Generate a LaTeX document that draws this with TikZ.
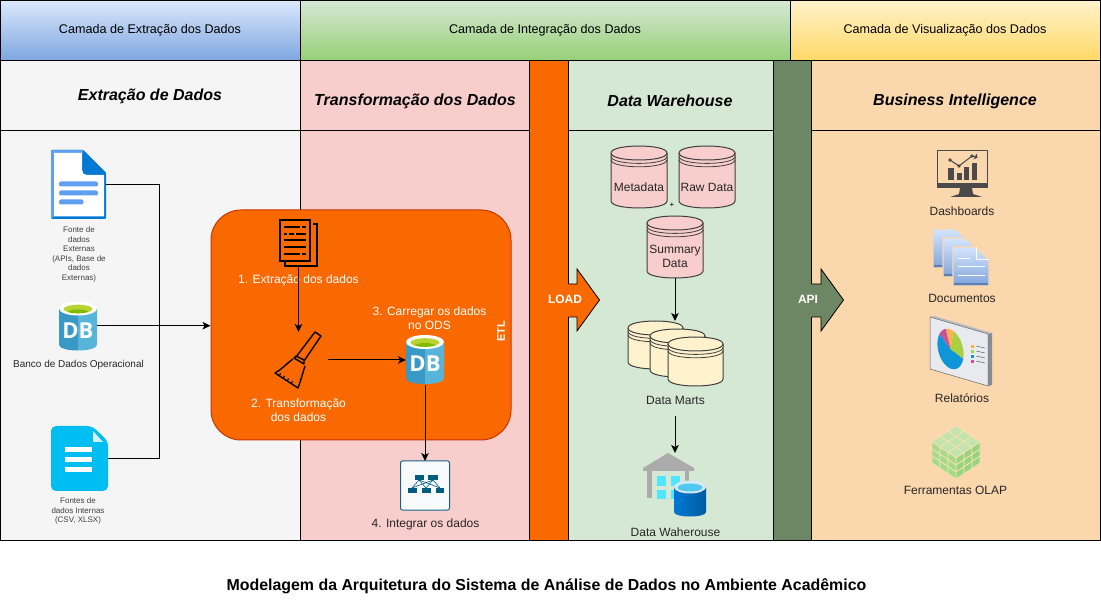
\documentclass[tikz,border=0pt]{standalone}
\usepackage{fontspec}
\setmainfont{Liberation Sans}
\newfontfamily\dbfont{Open Sans}
\usetikzlibrary{arrows.meta}
\definecolor{panelgray}{HTML}{F5F5F5}
\definecolor{panelpink}{HTML}{F8CECC}
\definecolor{panelgreen}{HTML}{D5E8D4}
\definecolor{panelpeach}{HTML}{FAD7AC}
\definecolor{etlorange}{HTML}{FA6800}
\definecolor{etledge}{HTML}{C73500}
\definecolor{apigreen}{HTML}{6D8764}
\definecolor{martyellow}{HTML}{FFF2CC}
\definecolor{azdark}{HTML}{3999C6}
\definecolor{azlight}{HTML}{59B4D9}
\definecolor{azgreen}{HTML}{B8D432}
\definecolor{azgreenb}{HTML}{7FBA00}
\definecolor{docblue}{HTML}{0078D4}
\definecolor{doclight}{HTML}{5EA0EF}
\definecolor{cyanfile}{HTML}{00BEF2}
\definecolor{integ}{HTML}{005B81}
\definecolor{integedge}{HTML}{146487}
\definecolor{integfill}{HTML}{F8FAFB}
\definecolor{wall}{HTML}{ABABAB}
\definecolor{wincyan}{HTML}{50E6FF}
\definecolor{monitor}{HTML}{4A4A4A}
\definecolor{hblueT}{HTML}{DAE8FC}
\definecolor{hblueB}{HTML}{7EA6E0}
\definecolor{hgreenB}{HTML}{97D077}
\definecolor{hyellowB}{HTML}{FFD966}
\definecolor{pageT}{HTML}{D4E4FF}
\definecolor{pageB}{HTML}{7FA4DA}
\definecolor{pageBar}{HTML}{5B7FB5}
\definecolor{foldpale}{HTML}{D8F0FA}
\definecolor{cylT}{HTML}{D4E9F4}
\definecolor{cylI}{HTML}{50C8F0}
\definecolor{cylD}{HTML}{005BA1}
\definecolor{boardF}{HTML}{E8EAF0}
\definecolor{boardS}{HTML}{8A8C94}
\definecolor{boardTop}{HTML}{B8BAC4}
\definecolor{pieblue}{HTML}{0E96D8}
\definecolor{piegreen}{HTML}{A8D040}
\definecolor{pieorange}{HTML}{F9B24C}
\definecolor{piepink}{HTML}{C9509A}
\definecolor{cubeT}{HTML}{C4E4AE}
\definecolor{cubeL}{HTML}{A4DA88}
\definecolor{cubeR}{HTML}{98D47A}
\definecolor{cubeE}{HTML}{F0E2B4}
\tikzset{
  x=1pt,y=-1pt,
  panel/.style={draw=black,line width=1pt},
  iconbox/.style={inner sep=0pt,outer sep=0pt,minimum width=#1},
  iconbox/.default=10pt,
  lbl/.style={inner sep=0pt,align=center,font=\fontsize{12}{14.4}\selectfont,text=black!85},
  lblwhite/.style={lbl,text=white},
  small/.style={inner sep=0pt,align=center,font=\fontsize{8}{9.6}\selectfont,text=black!75},
  head/.style={inner sep=0pt,font=\fontsize{12.6}{14}\selectfont,text=black},
  subhead/.style={inner sep=0pt,font=\fontsize{16}{18}\selectfont\bfseries\itshape,text=black},
  conn/.style={draw=black,line width=1pt,-{Stealth[length=8pt,width=7.5pt,inset=2pt]}},
  plainconn/.style={draw=black,line width=1pt},
  dstore/.style={draw=black!75,line width=1pt},
}
% x, y, w, h, fill
\newcommand{\datastoreicon}[5]{%
  \begin{scope}[shift={(#1,#2)},x=#3pt,y=-#4pt]
    \pgfmathsetmacro\dsr{7/#4}
    \path[dstore,fill=#5] (0,\dsr) .. controls (0,-\dsr/3) and (1,-\dsr/3) .. (1,\dsr)
      -- (1,1-\dsr) .. controls (1,{1+\dsr/3}) and (0,{1+\dsr/3}) .. (0,1-\dsr) -- cycle;
    \draw[dstore] (0,\dsr) .. controls (0,{\dsr*7/3}) and (1,{\dsr*7/3}) .. (1,\dsr);
    \draw[dstore,line width=.8pt] (0,{\dsr+3.4/#4}) .. controls (0,{\dsr*7/3+3.4/#4}) and (1,{\dsr*7/3+3.4/#4}) .. (1,{\dsr+3.4/#4});
    \draw[dstore,line width=.8pt] (0,{\dsr+6.8/#4}) .. controls (0,{\dsr*7/3+6.8/#4}) and (1,{\dsr*7/3+6.8/#4}) .. (1,{\dsr+6.8/#4});
  \end{scope}}
% x, y (top-left) of a 38x48 DB icon
\newcommand{\dbicon}[2]{%
  \begin{scope}[shift={(#1,#2)}]
    \fill[azdark] (0,7) -- (19,7) -- (19,49) .. controls (9,49) and (0,47) .. (0,43) -- cycle;
    \fill[azlight] (38,7) -- (19,7) -- (19,49) .. controls (29,49) and (38,47) .. (38,43) -- cycle;
    \fill[white] (19,7) ellipse [x radius=19pt,y radius=7pt];
    \fill[azgreen] (19,7.5) ellipse [x radius=14.5pt,y radius=4.3pt];
    \begin{scope}
      \clip (19,7.5) ellipse [x radius=14.5pt,y radius=4.3pt];
      \fill[azgreenb] (19,11.5) ellipse [x radius=11pt,y radius=3.5pt];
    \end{scope}
    \node[inner sep=0pt,text=white,font=\dbfont\fontsize{22}{22}\selectfont\bfseries] at (19,29) {DB};
  \end{scope}}
% x, y of a stacked page
\newcommand{\pageicon}[2]{%
  \begin{scope}[shift={(#1,#2)}]
    \path[draw=panelpeach,line width=1.2pt,top color=pageT,bottom color=pageB]
      (0,0) -- (23,0) -- (36,13) -- (36,39) -- (0,39) -- cycle;
    \fill[pageBar] (.6,36) rectangle (35.4,38.4);
  \end{scope}}
\begin{document}
\begin{tikzpicture}
\useasboundingbox (0,0) rectangle (1101,601);
\fill[white] (0,0) rectangle (1101,601);
% header bands
\path[panel,top color=hblueT,bottom color=hblueB] (0.5,0.5) rectangle (300.5,60.5);
\path[panel,top color=panelgreen,bottom color=hgreenB] (300.5,0.5) rectangle (790.5,60.5);
\path[panel,top color=martyellow,bottom color=hyellowB] (790.5,0.5) rectangle (1100.5,60.5);
% columns
\path[panel,fill=panelgray] (0.5,60.5) rectangle (300.5,130.5);
\path[panel,fill=panelgray] (0.5,130.5) rectangle (300.5,540.5);
\path[panel,fill=panelpink] (300.5,60.5) rectangle (529.5,130.5);
\path[panel,fill=panelpink] (300.5,130.5) rectangle (529.5,540.5);
\path[panel,fill=panelgreen] (568.5,60.5) rectangle (773.5,130.5);
\path[panel,fill=panelgreen] (568.5,130.5) rectangle (773.5,540.5);
\path[panel,fill=panelpeach] (811.5,60.5) rectangle (1100.5,130.5);
\path[panel,fill=panelpeach] (811.5,130.5) rectangle (1100.5,540.5);
% LOAD and API stripes
\path[fill=etlorange] (529.5,60.5) -- (568.5,60.5) -- (568.5,284) -- (577,284) -- (577,269) -- (599.5,300) -- (577,331) -- (577,317) -- (568.5,317) -- (568.5,540.5) -- (529.5,540.5) -- cycle;
\draw[panel] (529.5,60.5) -- (568.5,60.5) -- (568.5,284);
\draw[panel] (568.5,317) -- (568.5,540.5) -- (529.5,540.5) -- (529.5,60.5);
\draw[draw=black,line width=.8pt] (568.5,284) -- (577,284) -- (577,269) -- (599.5,300) -- (577,331) -- (577,317) -- (568.5,317);
\path[fill=apigreen] (773.5,60.5) -- (811.5,60.5) -- (811.5,284) -- (821,284) -- (821,269) -- (843.5,300) -- (821,331) -- (821,317) -- (811.5,317) -- (811.5,540.5) -- (773.5,540.5) -- cycle;
\draw[panel] (773.5,60.5) -- (811.5,60.5) -- (811.5,284);
\draw[panel] (811.5,317) -- (811.5,540.5) -- (773.5,540.5) -- (773.5,60.5);
\draw[draw=black,line width=.8pt] (811.5,284) -- (821,284) -- (821,269) -- (843.5,300) -- (821,331) -- (821,317) -- (811.5,317);
% header texts
\node[head] (h1) at (150,30) {Camada de Extração dos Dados};
\node[head] (h2) at (545,30) {Camada de Integração dos Dados};
\node[head] (h3) at (945,30) {Camada de Visualização dos Dados};
\node[subhead] (s1) at (150,96) {Extração de Dados};
\node[subhead] (s2) at (415,101) {Transformação dos Dados};
\node[subhead] (s3) at (670,101) {Data Warehouse};
\node[subhead] (s4) at (955,101) {Business Intelligence};
\node[inner sep=0pt,font=\fontsize{12}{14}\selectfont\bfseries,text=white] (load) at (565,299.5) {LOAD};
\node[inner sep=0pt,font=\fontsize{12}{14}\selectfont\bfseries,text=white] (api) at (808,299.5) {API};
% ETL box
\node[draw=etledge,fill=etlorange,line width=1pt,rounded corners=30pt,minimum width=300pt,minimum height=230pt,inner sep=0pt] (etl) at (361,325) {};
\node[inner sep=0pt,rotate=90,font=\fontsize{11}{13}\selectfont\bfseries,text=white] (etllbl) at (501,331) {ETL};
% external document icon
\node[iconbox=55pt,minimum height=69pt] (ext) at (78.5,184.5) {};
\path[fill=docblue,rounded corners=1pt] (51,150) -- (83,150) -- (106,173) -- (106,219) -- (51,219) -- cycle;
\path[fill=doclight,rounded corners=1pt] (51,150) -- (83,150) -- (85,153) -- (54,153) -- (54,217) -- (51,219) -- cycle;
\fill[white] (54,153) -- (82,153) -- (82,170) .. controls (82,173) and (84,175) .. (87,175) -- (104,175) -- (104,216.5) -- (54,216.5) -- cycle;
\fill[docblue] (83,150) -- (106,173) -- (88,173) .. controls (85,173) and (83,171) .. (83,168) -- cycle;
\fill[doclight,rounded corners=2pt] (59,181.5) rectangle (98,186.5);
\fill[doclight,rounded corners=2pt] (59,190.5) rectangle (98,195.5);
\fill[doclight,rounded corners=2pt] (59,199.5) rectangle (83.5,204.5);
\node[small] (extl) at (79,254.5) {Fonte de\\dados\\Externas\\(APIs, Base de\\dados\\Externas)};
% operational DB
\node[iconbox=38pt,minimum height=48pt] (dbop) at (78,325.7) {};
\dbicon{59}{301.5}
\node[inner sep=0pt,font=\fontsize{10}{12}\selectfont,text=black!85] (dbopl) at (78.5,365) {Banco de Dados Operacional};
% internal file
\node[iconbox=57pt,minimum height=65pt] (int) at (79.5,458.5) {};
\path[fill=cyanfile,rounded corners=5pt] (51,426) -- (92,426) -- (108,441) -- (108,491) -- (51,491) -- cycle;
\fill[foldpale] (93,431) -- (103,442) -- (93,442) -- cycle;
\fill[white] (65,447) rectangle (92,452);
\fill[white] (65,457) rectangle (92,462);
\fill[white] (65,467) rectangle (92,472);
\node[small] (intl) at (78,511) {Fontes de\\dados Internas\\(CSV, XLSX)};
% extraction icon
\node[iconbox=39pt,minimum height=48pt] (extr) at (298.5,243) {};
\draw[black,line width=1.6pt,fill=etlorange] (280,220) rectangle (310,261);
\draw[black,line width=1.2pt] (313,224) -- (317,224) -- (317,266) -- (285,266) -- (285,262.5);
\foreach \yy/\xa/\xb in {227/284/306,234/284/306,240/284/306,247/284/306,254/284/306}{\draw[black,line width=1.1pt] (\xa,\yy) -- (\xb,\yy);}
\draw[etlorange,line width=1.3pt] (300,227) -- (302,227);
\draw[etlorange,line width=1.3pt] (287,234) -- (289,234) (294,234) -- (296,234);
\draw[etlorange,line width=1.3pt] (300,254) -- (302,254);
% broom
\node[iconbox=59pt,minimum height=56pt] (broom) at (298.5,360) {};
\draw[black,line width=1.4pt,line join=round] (296,357) -- (315,332) -- (321,336) -- (304,361);
\draw[black,line width=1.4pt,line join=round] (294,358) -- (296,356) -- (304,360) -- (304,364) -- cycle;
\draw[black,line width=1.4pt,line join=round] (293,359) .. controls (285,365) and (281,370) .. (275,373) -- (298,388) .. controls (301,380) and (303,372) .. (305,366);
\foreach \tx/\ty in {279/376,283/378.6,287/381.2,291/383.8}{\draw[black,line width=1pt] (\tx,\ty) -- ++(1.6,-2.6);}
% labels in the ETL
\node[lblwhite] (l1) at (298.5,280.5) {1. Extração dos dados};
\node[lblwhite] (l2) at (298.5,410) {2. Transformação\\dos dados};
\node[lblwhite] (l3) at (429.5,318) {3. Carregar os dados\\no ODS};
% ODS DB
\node[iconbox=38pt,minimum height=50pt] (ods) at (425,360) {};
\dbicon{406}{335}
% integrate icon
\node[iconbox=49pt,minimum height=49pt,draw=integedge,fill=integfill,line width=1pt,rounded corners=2pt] (intg) at (425,485.5) {};
\foreach \xa/\xb in {419/412,419/426,419/440,433/412,433/426,433/440}{\draw[integ,line width=.6pt] (\xa,480) -- (\xb,488);}
\foreach \xa/\xb/\ya in {415/424/475,428/438/475,408/417/488,422/431/488,436/444/488}{\fill[integ] (\xa,\ya) rectangle (\xb,\ya+5);}
\node[lbl] (l4) at (425.5,524.5) {4. Integrar os dados};
% connectors on the left and in ETL
\coordinate (bus) at (159,325.7);
\draw[plainconn] (ext.east) -| (bus);
\draw[plainconn] (int.east) -| (bus);
\draw[conn] (dbop.east) -- (etl.west |- dbop.east);
\draw[conn] (extr.south) -- (broom.north);
\draw[conn] (broom.east) -- (ods.west);
\draw[conn] (ods.south) -- (intg.north);
% datastores
\datastoreicon{611}{146}{56}{62}{panelpink}
\datastoreicon{679}{146}{56}{62}{panelpink}
\datastoreicon{647}{216}{56}{62}{panelpink}
\node[lbl] (meta) at (639,187) {Metadata};
\node[lbl] (raw) at (707,187) {Raw Data};
\node[small,text=black] (plus) at (672,205) {+};
\node[lbl] (suml) at (675,256.5) {Summary\\Data};
\node[iconbox=56pt,minimum height=62pt] (sum) at (675,247) {};
\datastoreicon{628}{321}{55}{48}{martyellow}
\datastoreicon{650}{329}{55}{48}{martyellow}
\datastoreicon{668}{337}{55}{49}{martyellow}
\node[iconbox=95pt,minimum height=65pt] (marts) at (675,353.5) {};
\node[lbl] (martsl) at (675.5,400) {Data Marts};
\coordinate (martsout) at (675,416);
\node[iconbox=64pt,minimum height=64pt] (wh) at (675,485) {};
\draw[conn] (sum.south) -- (marts.north);
\draw[conn] (martsout) -- (wh.north);
% warehouse icon
\fill[wall] (668,453) -- (694,468) -- (694,471) -- (643,471) -- (643,468) -- cycle;
\fill[wall] (647,470) rectangle (652,498);
\fill[wall] (685,470) rectangle (689,490);
\fill[wincyan] (657,476) rectangle (666,486);
\fill[wincyan] (671,476) rectangle (680,486);
\fill[wincyan] (657,490) rectangle (666,499);
\fill[wincyan] (671,490) rectangle (680,499);
\path[left color=docblue,right color=cylD] (674,487) -- (706,487) -- (706,512) .. controls (706,518) and (674,518) .. (674,512) -- cycle;
\fill[cylT] (690,487) ellipse [x radius=16pt,y radius=6.5pt];
\fill[cylI] (690,487.5) ellipse [x radius=12.5pt,y radius=4pt];
\node[lbl] (whl) at (675.5,532) {Data Waherouse};
% dashboards icon
\node[iconbox=50pt,minimum height=47pt] (dash) at (962,173.5) {};
\draw[monitor,line width=1pt] (937.5,150.5) rectangle (987,188);
\fill[monitor] (937,183) rectangle (987.5,188.5);
\fill[monitor] (960,188) -- (972,188) -- (973,194) -- (982,197) -- (950,197) -- (959,194) -- cycle;
\fill[monitor] (948,168) rectangle (953.5,180);
\fill[monitor] (956.5,173) rectangle (962,180);
\fill[monitor] (964,167) rectangle (969,180);
\fill[monitor] (971.5,163) rectangle (977,180);
\draw[monitor,line width=1pt] (950,160) -- (959,166) -- (972,156) -- (976,157);
\fill[monitor] (950,160) circle[radius=1.8pt];
\fill[monitor] (959,166) circle[radius=1.8pt];
\fill[monitor] (972,156) circle[radius=1.8pt];
\fill[monitor] (976.5,153.5) -- (977.5,157.5) -- (973.5,159.5) -- cycle;
\node[lbl] (dashl) at (962,211) {Dashboards};
% documents icon
\node[iconbox=56pt,minimum height=57pt] (docs) at (961,257.5) {};
\pageicon{933}{229}
\pageicon{943}{238}
\pageicon{953}{247}
\draw[white,line width=1pt] (976,247.5) -- (976,260) -- (989,260);
\draw[white,line width=1pt] (958,259) -- (970,259);
\draw[white,line width=1pt] (958,267) -- (985,267);
\draw[white,line width=1pt] (958,276) -- (985,276);
\node[lbl] (docsl) at (962,298.5) {Documentos};
% reports icon
\node[iconbox=62pt,minimum height=70pt] (rep) at (961,351) {};
\fill[boardTop] (930,317) -- (934,316) -- (992,333) -- (988,334) -- cycle;
\fill[boardS] (988,334) -- (992,333) -- (992,385) -- (988,386) -- cycle;
\draw[black!60,line width=.5pt,fill=boardF] (930,317) -- (988,334) -- (988,386) -- (930,369) -- cycle;
\begin{scope}[shift={(950.5,349)},x={(13pt,-3pt)},y={(-1.5pt,20pt)}]
  \fill[pieblue] (0,0) -- plot[domain=140:340,samples=40] ({cos(\x)},{sin(\x)}) -- cycle;
  \fill[piegreen] (0,0) -- plot[domain=-20:70,samples=20] ({cos(\x)},{sin(\x)}) -- cycle;
  \fill[pieorange] (0,0) -- plot[domain=70:105,samples=10] ({cos(\x)},{sin(\x)}) -- cycle;
  \fill[piepink] (0,0) -- plot[domain=105:140,samples=10] ({cos(\x)},{sin(\x)}) -- cycle;
\end{scope}
\foreach \yy/\cc in {346/pieorange,351/piegreen,356/pieblue,361/piepink}{
  \fill[\cc] (971,\yy-1) rectangle (974,\yy+2);
  \draw[black!60,line width=.5pt] (976,\yy) -- (985,\yy+2);
}
\node[lbl] (repl) at (962,398.5) {Relatórios};
% OLAP cube
\node[iconbox=48pt,minimum height=52pt] (olap) at (956,452) {};
\foreach \i in {0,1,2}{\foreach \j in {0,1,2}{
  \path[fill=cubeT,draw=cubeE,line width=.8pt]
    ({956+8*\i-8*\j},{426+5.3*\i+5.3*\j}) -- ++(8,5.3) -- ++(-8,5.3) -- ++(-8,-5.3) -- cycle;
}}
\foreach \i in {0,1,2}{\foreach \k in {0,1,2}{
  \path[fill=cubeL,draw=cubeE,line width=.8pt]
    ({932+8*\i},{442+5.3*\i+7*\k}) -- ++(8,5.3) -- ++(0,7) -- ++(-8,-5.3) -- cycle;
  \path[fill=cubeR,draw=cubeE,line width=.8pt]
    ({956+8*\i},{458-5.3*\i+7*\k}) -- ++(8,-5.3) -- ++(0,7) -- ++(-8,5.3) -- cycle;
}}
\node[lbl] (olapl) at (955.5,490.5) {Ferramentas OLAP};
% title
\node[inner sep=0pt,font=\fontsize{15.9}{18}\selectfont\bfseries,text=black] (title) at (546.5,586) {Modelagem da Arquitetura do Sistema de Análise de Dados no Ambiente Acadêmico};
\end{tikzpicture}
\end{document}
